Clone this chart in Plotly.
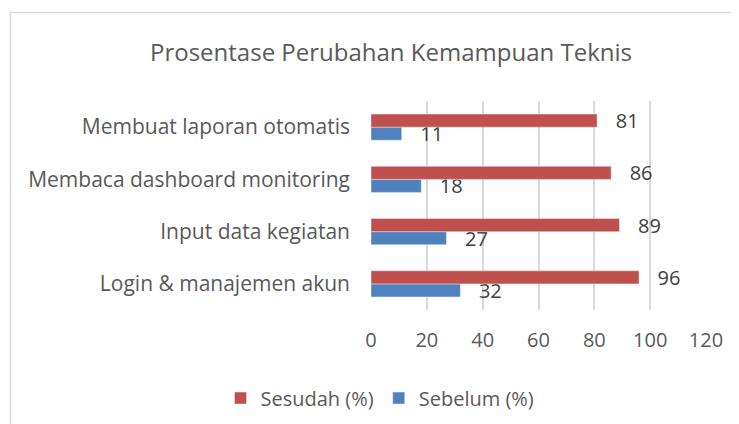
import plotly.graph_objects as go

categories = ["Login & manajemen akun", "Input data kegiatan", "Membaca dashboard monitoring", "Membuat laporan otomatis"]
sesudah = [96, 89, 86, 81]
sebelum = [32, 27, 18, 11]
x_ticks = [0, 20, 40, 60, 80, 100, 120]

RED = "#C0504D"
BLUE = "#4F81BD"
FONT = "Open Sans"

OFF = 8  # page body margin
W, H = 739 - OFF, 424 - OFF
# plot area in page pixels: x 371..706, y 101..310
L, R, T, B = 371 - OFF, W - (706 - OFF), 101 - OFF, H - (310 - OFF)
pw, ph = W - L - R, H - T - B

def px2x(px):
    return (px - OFF - L) / pw

def py2y(py):
    return (H - B - (py - OFF)) / ph

fig = go.Figure()
fig.add_trace(go.Bar(
    y=categories, x=sebelum, orientation="h", name="Sebelum (%)",
    marker=dict(color=BLUE), text=sebelum, texttemplate="   %{x}",
    textposition="outside", cliponaxis=False, constraintext="none",
    textfont=dict(family=FONT, size=20, color="#404040"),
))
fig.add_trace(go.Bar(
    y=categories, x=sesudah, orientation="h", name="Sesudah (%)",
    marker=dict(color=RED), text=sesudah, texttemplate="   %{x}",
    textposition="outside", cliponaxis=False, constraintext="none",
    textfont=dict(family=FONT, size=20, color="#404040"),
))

fig.update_layout(
    width=W, height=H,
    margin=dict(l=L, r=R, t=T, b=B, autoexpand=False),
    paper_bgcolor="white", plot_bgcolor="white",
    barmode="group", bargap=0.5, bargroupgap=0,
    title=dict(text="Prosentase Perubahan Kemampuan Teknis", x=(391 - OFF) / W, xref="container",
               xanchor="center", y=1 - (53 - OFF) / H, yanchor="middle",
               font=dict(family=FONT, size=24, color="#595959")),
    xaxis=dict(range=[0, 120], tickvals=x_ticks, showgrid=True, gridcolor="#D9D9D9",
               gridwidth=1.5, zeroline=False, showline=False, automargin=False,
               tickfont=dict(family=FONT, size=20, color="#595959"), ticklabelstandoff=16),
    yaxis=dict(showgrid=False, showline=False, zeroline=False, ticks="", automargin=False,
               tickfont=dict(family=FONT, size=21, color="#595959"), ticklabelstandoff=20),
    legend=dict(orientation="h", x=(380 - OFF) / W, xref="container", xanchor="center",
                y=py2y(398), yanchor="middle", traceorder="reversed",
                font=dict(family=FONT, size=20, color="#595959")),
    shapes=[dict(type="rect", xref="paper", yref="paper",
                 x0=px2x(10.5), x1=px2x(760), y0=py2y(12.5), y1=py2y(440),
                 line=dict(color="#D9D9D9", width=1.5), fillcolor="rgba(0,0,0,0)", layer="below")],
)

fig.write_html("out.html")
